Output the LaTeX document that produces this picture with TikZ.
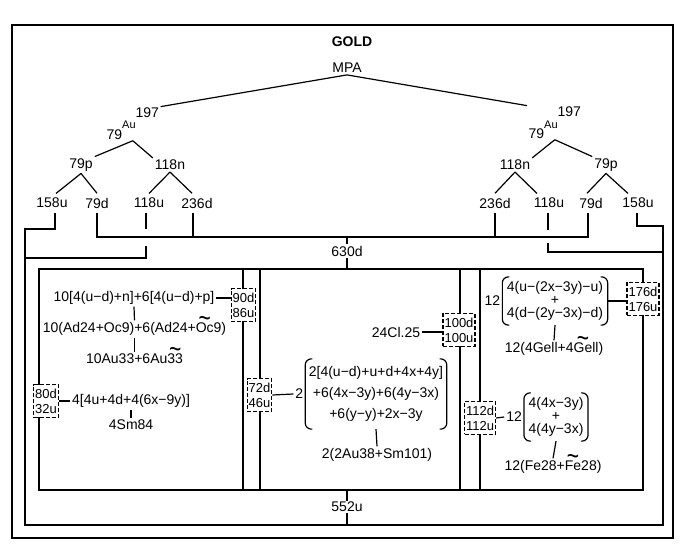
\documentclass[tikz,border=0pt]{standalone}
\usepackage{fontspec}
\setmainfont{Liberation Sans}
\usetikzlibrary{positioning,calc}

\newsavebox\tldbox
\newcommand\tld[1]{\sbox\tldbox{#1}\rlap{\smash{\makebox[\wd\tldbox]{\raisebox{5pt}{\scalebox{1.5}[2]{\char"7E}}}}}\usebox\tldbox}
\newcommand\parens[1]{%
  \draw[rounded corners=6pt] ([xshift=7pt]#1.north west) -| (#1.south west) -- ([xshift=7pt]#1.south west);
  \draw[rounded corners=6pt] ([xshift=-7pt]#1.north east) -| (#1.south east) -- ([xshift=-7pt]#1.south east);}

\begin{document}
\begin{tikzpicture}[x=1pt, y=-1pt, line width=1.2pt,
    lbl/.style={font=\fontsize{14}{16}\selectfont, inner sep=1.5pt},
    leaf/.style={lbl, inner ysep=4pt},
    tag/.style={draw, dashed, dash pattern=on 4pt off 2pt, fill=white, align=center, inner xsep=1.5pt, inner ysep=4pt, font=\fontsize{13}{15}\selectfont},
    sum/.style={align=center, inner xsep=3pt, inner ysep=7pt, font=\fontsize{14}{21}\selectfont},
    frac/.style={align=center, inner xsep=4pt, inner ysep=4pt, font=\fontsize{14}{13}\selectfont}
]
\useasboundingbox (0,0) rectangle (700,559);

% frames
\draw (12,25) rectangle (673,538);
\draw (39,269) rectangle (643,490);
\foreach \x in {243,260,460,480}
  \draw (\x,269) -- (\x,490);

\node[lbl, font=\fontsize{14}{16}\selectfont\bfseries] (gold) at (352,42) {GOLD};
\node[lbl] (mpa) at (347,68) {MPA};

% nuclei
\node[lbl, inner sep=1pt, anchor=base west] (auL) at (105,139)
  {79\raisebox{10pt}{\fontsize{11}{12}\selectfont Au}\raisebox{21pt}{197}};
\node[lbl, inner sep=1pt, anchor=base west] (auR) at (527,138)
  {79\raisebox{10pt}{\fontsize{11}{12}\selectfont Au}\raisebox{21pt}{197}};
\draw (mpa.south) -- (auL.north east);
\draw (mpa.south) -- (auR.north west);

% left tree
\node[lbl] (pL) at (81,165) {79p};
\node[lbl] (nL) at (170,165) {118n};
\node[leaf] (uL) at (52,203) {158u};
\node[leaf] (dL) at (97,203) {79d};
\node[leaf] (uuL) at (149,203) {118u};
\node[leaf] (ddL) at (197,203) {236d};
\draw (auL.south) -- (pL.north east);
\draw (auL.south) -- (nL.north west);
\draw (pL.south) -- ([xshift=4pt]uL.north);
\draw (pL.south) -- (dL.north);
\draw (nL.south) -- (uuL.north);
\draw (nL.south) -- ([xshift=-5pt]ddL.north);

% right tree
\node[lbl] (nR) at (515,165) {118n};
\node[lbl] (pR) at (606,165) {79p};
\node[leaf] (ddR) at (495,203) {236d};
\node[leaf] (uuR) at (549,203) {118u};
\node[leaf] (dR) at (591,203) {79d};
\node[leaf] (uR) at (638,203) {158u};
\draw (auR.south) -- (nR.north east);
\draw (auR.south) -- (pR.north west);
\draw (nR.south) -- (ddR.north);
\draw (nR.south) -- ([xshift=-12pt]uuR.north);
\draw (pR.south) -- ([xshift=-4pt]dR.north);
\draw (pR.south) -- ([xshift=-10pt]uR.north);

% 630d and 552u
\coordinate (d630) at (347,237);
\coordinate (top630) at (347,269);
\coordinate (bot552) at (347,490);
\coordinate (loop552) at (347,525);
\draw (dL.south) |- (d630) -| ([xshift=-3pt]dR.south);
\draw ([xshift=-4pt]ddL.south) -- ([xshift=-4pt]ddL.south |- d630);
\draw (ddR.south) -- (ddR.south |- d630);
\draw (d630) -- (top630);
\node[lbl, fill=white] (l630) at (347,251) {630d};
\draw ([xshift=3pt]uL.south) |- (25,229) |- (loop552) -| (663,226) -| ([xshift=-1pt]uR.south);
\draw ([xshift=-3pt]uuL.south) -- ([xshift=-3pt,yshift=8pt]uuL.south |- d630);
\draw ([xshift=-3pt,yshift=-9pt]uuL.south |- d630) |- (25,258);
\draw ([xshift=-1pt]uuR.south) -- ([xshift=-1pt,yshift=7pt]uuR.south |- d630);
\draw ([xshift=-1pt,yshift=-6pt]uuR.south |- d630) |- (663,252);
\draw (bot552) -- (loop552);
\node[lbl, fill=white] (l552) at (347,507) {552u};

% left panel
\node[lbl] (f1) at (134,298) {10[4(u−d)+n]+6[4(u−d)+p]};
\node[tag] (b90) at (243.5,305) {90d\\86u};
\draw (f1.east) -- (f1.east -| b90.west);
\node[lbl] (f2) at (134.5,329) {10(Ad24+Oc9)+6(Ad24+\tld{Oc}9)};
\node[lbl] (f3) at (134.5,359) {10Au33+6Au\tld{33}};
\draw (f1.south) -- (f2.north);
\draw (f2.south) -- (f3.north);
\node[tag] (b80) at (46,401) {80d\\32u};
\node[lbl, anchor=west] (f4) at (70,401) {4[4u+4d+4(6x−9y)]};
\draw (b80.east) -- (f4.west);
\node[lbl] (f5) at (f4.center |- 0,425) {4Sm84};
\draw (f4.south) -- (f5.north);

% middle panel
\node[tag] (b100) at (459,330) {100d\\100u};
\node[lbl] (g1) at (396,332) {24Cl.25};
\draw (g1.east) -- (g1.east -| b100.west);
\node[sum] (g2) at (376,394) {2[4(u−d)+u+d+4x+4y]\\+6(4x−3y)+6(4y−3x)\\+6(y−y)+2x−3y};
\parens{g2}
\node[tag] (b72) at (259.5,395) {72d\\46u};
\node[lbl, left=0pt of g2] (k2) {2};
\draw (b72.east) -- (k2.west);
\node[lbl] (g3) at (377,455) {2(2Au38+Sm101)};
\draw (g2.south) -- (g3.north);

% right panel
\node[tag] (b176) at (643,299) {176d\\176u};
\node[frac] (h1) at (555,301) {4(u−(2x−3y)−u)\\+\\4(d−(2y−3x)−d)};
\parens{h1}
\node[lbl, left=0pt of h1] (k12a) {12};
\draw (h1.east) -- (h1.east -| b176.west);
\node[lbl] (h2) at (554,349) {12(4Gell+4\tld{Ge}ll)};
\draw (h1.south) -- (h2.north);
\node[tag] (b112) at (480,418) {112d\\112u};
\node[frac] (h3) at (556,417) {4(4x−3y)\\+\\4(4y−3x)};
\parens{h3}
\node[lbl, left=0pt of h3] (k12b) {12};
\draw (b112.east) -- (k12b.west);
\node[lbl] (h4) at (553,467) {12(Fe28+\tld{Fe}28)};
\draw (h3.south) -- (h4.north);

\end{tikzpicture}
\end{document}
